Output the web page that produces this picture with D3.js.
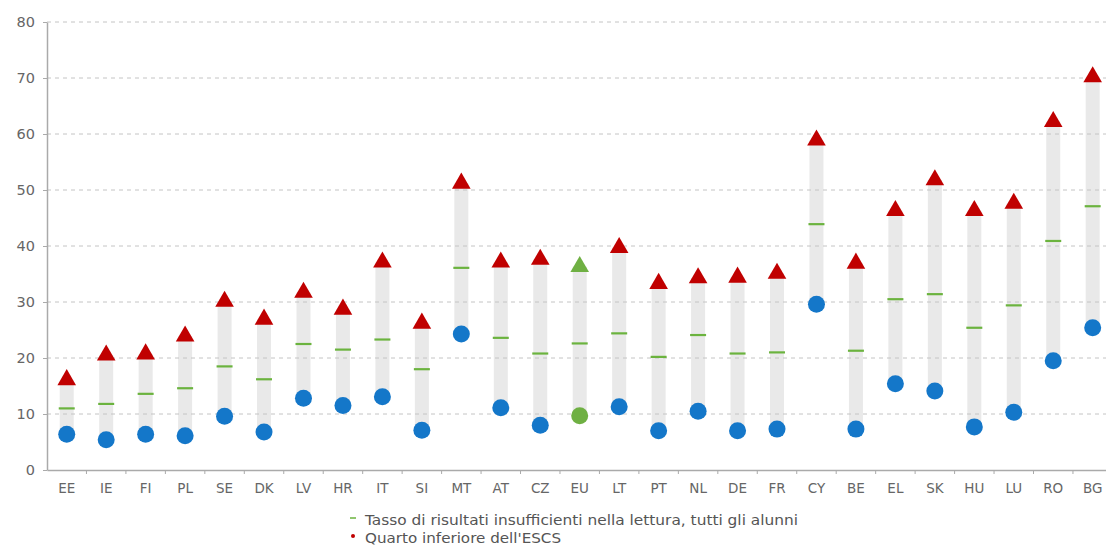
<!DOCTYPE html>
<html><head><meta charset="utf-8">
<script src="https://cdn.jsdelivr.net/npm/d3@7"></script>
<style>html,body{margin:0;padding:0;background:#fff;}svg{display:block;}</style>
</head><body>
<svg id="chart" width="1106" height="548"></svg>
<script>
const categories = ["EE","IE","FI","PL","SE","DK","LV","HR","IT","SI","MT","AT","CZ","EU","LT","PT","NL","DE","FR","CY","BE","EL","SK","HU","LU","RO","BG"];
const allPupils = [11.0,11.8,13.6,14.6,18.5,16.2,22.5,21.5,23.3,18.0,36.1,23.6,20.8,22.6,24.4,20.2,24.1,20.8,21.0,43.9,21.3,30.5,31.4,25.4,29.4,40.9,47.1];
const bottomQuarter = [16.1,20.5,20.7,23.9,30.1,26.9,31.7,28.7,37.1,26.2,51.2,37.1,37.6,36.3,39.7,33.3,34.3,34.4,35.1,58.9,36.9,46.3,51.8,46.3,47.6,62.2,70.2];
const topQuarter = [6.4,5.4,6.4,6.1,9.6,6.8,12.8,11.5,13.1,7.1,24.3,11.1,8.0,9.7,11.3,7.0,10.5,7.0,7.3,29.6,7.3,15.4,14.1,7.7,10.3,19.5,25.4];
const yTicks = [0,10,20,30,40,50,60,70,80];
const legendLabels = ["Tasso di risultati insufficienti nella lettura, tutti gli alunni","Quarto inferiore dell'ESCS"];

const data = categories.map((c,i)=>({c, all:allPupils[i], low:bottomQuarter[i], high:topQuarter[i]}));
const svg = d3.select("#chart");
const m = {left:47, top:22, bottom:470};
const bw = 39.46;
const x = d3.scaleBand().domain(categories).range([m.left, m.left + bw*categories.length]).paddingInner(0).paddingOuter(0);
const y = d3.scaleLinear().domain([0,80]).range([m.bottom, m.top]);
const font = "DejaVu Sans, Verdana, sans-serif";

// bars
svg.append("g").selectAll("rect").data(data).join("rect")
  .attr("x", d=>x(d.c)+x.bandwidth()/2-7).attr("width",14)
  .attr("y", d=>y(d.low)).attr("height", d=>y(d.high)-y(d.low))
  .attr("fill","#e9e9e9");

// gridlines
svg.append("g").selectAll("line").data(yTicks.filter(t=>t>0)).join("line")
  .attr("x1", m.left).attr("x2", 1106).attr("y1", d=>y(d)).attr("y2", d=>y(d))
  .attr("stroke","#c4c4c4").attr("stroke-width",1).attr("stroke-dasharray","4,4");

// y axis
const yAxis = d3.axisLeft(y).tickValues(yTicks).tickSize(4).tickSizeOuter(0);
const gy = svg.append("g").attr("transform",`translate(${m.left},0)`).call(yAxis);
gy.select(".domain").attr("stroke","#aaa").attr("stroke-width",1.5);
gy.selectAll(".tick line").attr("stroke","#aaa");
gy.selectAll(".tick text").attr("font-family",font).attr("font-size",14.5).attr("fill","#666").attr("x",-12);

// x axis
const xAxis = d3.axisBottom(x).tickSize(0).tickSizeOuter(0);
const gx = svg.append("g").attr("transform",`translate(0,${m.bottom})`).call(xAxis);
gx.select(".domain").attr("stroke","#aaa").attr("stroke-width",1.5);
gx.selectAll(".tick text").attr("font-family",font).attr("font-size",13.5).attr("fill","#666").attr("dy","1.45em");
// boundary ticks between categories
svg.append("g").selectAll("line").data(categories.slice(1)).join("line")
  .attr("x1", d=>x(d)).attr("x2", d=>x(d)).attr("y1", m.bottom).attr("y2", m.bottom+4)
  .attr("stroke","#aaa");

// green dashes (all pupils)
svg.append("g").selectAll("line").data(data).join("line")
  .attr("x1", d=>x(d.c)+x.bandwidth()/2-8).attr("x2", d=>x(d.c)+x.bandwidth()/2+8)
  .attr("y1", d=>y(d.all)).attr("y2", d=>y(d.all))
  .attr("stroke","#6bb33e").attr("stroke-width",2.2);

// circles (top quarter)
svg.append("g").selectAll("circle").data(data).join("circle")
  .attr("cx", d=>x(d.c)+x.bandwidth()/2).attr("cy", d=>y(d.high)).attr("r",8.5)
  .attr("fill", d=>d.c==="EU" ? "#6fb043" : "#1477c9");

// triangles (bottom quarter)
const tri = d3.symbol().type(d3.symbolTriangle).size(150);
svg.append("g").selectAll("path").data(data).join("path")
  .attr("d", tri)
  .attr("transform", d=>`translate(${x(d.c)+x.bandwidth()/2},${y(d.low)})`)
  .attr("fill", d=>d.c==="EU" ? "#6fb043" : "#c00000");

// legend
const lg = svg.append("g").attr("font-family",font).attr("font-size",14).attr("fill","#555");
lg.append("line").attr("x1",350).attr("x2",356).attr("y1",518).attr("y2",518).attr("stroke","#6bb33e").attr("stroke-width",1.5);
lg.append("circle").attr("cx",353).attr("cy",536).attr("r",2).attr("fill","#c00000");
const legendWidths = [433,196];
lg.selectAll("text").data(legendLabels).join("text")
  .attr("x",365).attr("y",(d,i)=>525+i*18)
  .attr("textLength",(d,i)=>legendWidths[i]).attr("lengthAdjust","spacingAndGlyphs")
  .text(d=>d);
</script>
</body></html>
